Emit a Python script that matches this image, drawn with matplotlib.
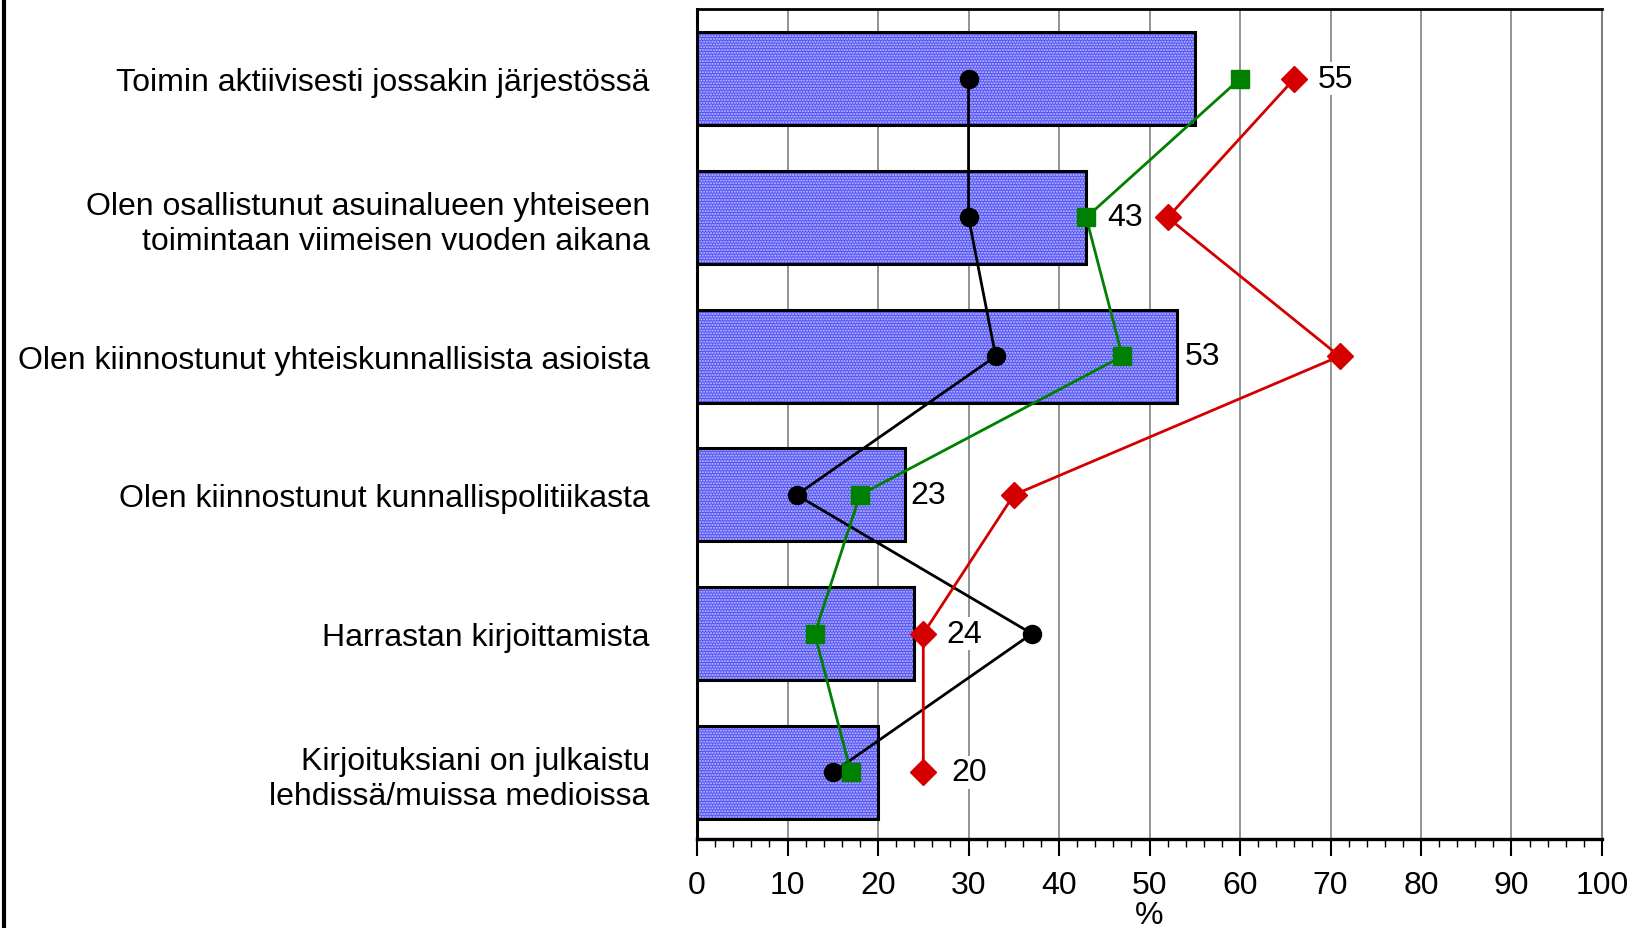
import numpy as np
import matplotlib.pyplot as plt
from matplotlib.lines import Line2D

plt.rcParams['font.family'] = ['Liberation Sans', 'DejaVu Sans']

categories = [
    'Toimin aktiivisesti jossakin järjestössä',
    'Olen osallistunut asuinalueen yhteiseen\ntoimintaan viimeisen vuoden aikana',
    'Olen kiinnostunut yhteiskunnallisista asioista',
    'Olen kiinnostunut kunnallispolitiikasta',
    'Harrastan kirjoittamista',
    'Kirjoituksiani on julkaistu\nlehdissä/muissa medioissa',
]
bar_values = [55, 43, 53, 23, 24, 20]
black_values = [30, 30, 33, 11, 37, 15]
green_values = [60, 43, 47, 18, 13, 17]
red_values = [66, 52, 71, 35, 25, 25]

# where each bar value label sits (x in data units)
label_x = [68.6, 45.3, 53.9, 23.6, 27.5, 28.1]

fig = plt.figure(figsize=(16.34, 9.29), dpi=100)
ax = fig.add_axes([0.4266, 0.0958, 0.9804 - 0.4266, 0.9888 - 0.0958])

y = np.arange(len(categories))

ax.barh(y, bar_values, height=0.67, color='#5252f5', edgecolor='#c8c8ff',
        hatch='......', linewidth=0, zorder=2)
ax.barh(y, bar_values, height=0.67, fill=False, edgecolor='black',
        linewidth=2.2, zorder=3)

ax.plot(black_values, y, color='black', marker='o', markersize=13, lw=2, zorder=4)
ax.plot(green_values, y, color='#008000', marker='s', markersize=13, lw=2, zorder=5)
ax.plot(red_values, y, color='#d40000', marker='D', markersize=13, lw=2, zorder=6)

for yi, v, lx in zip(y, bar_values, label_x):
    ax.text(lx, yi, str(v), va='center', ha='left', fontsize=23,
            bbox=dict(facecolor='white', edgecolor='none', pad=1), zorder=3.5)

ax.set_xlim(0, 100)
ax.set_ylim(5.48, -0.5)
ax.set_xticks(np.arange(0, 101, 10))
ax.set_xticks(np.arange(0, 101, 2), minor=True)
ax.set_yticks(y)
ax.set_yticklabels(categories, fontsize=23, multialignment='right')
ax.tick_params(axis='y', length=0, pad=34)
ax.tick_params(axis='x', which='major', length=12, width=1.5, labelsize=23, pad=10)
ax.tick_params(axis='x', which='minor', length=6, width=1)
ax.set_xlabel('%', fontsize=23, labelpad=0)

ax.grid(axis='x', color='#808080', lw=1.2, zorder=0)
ax.set_axisbelow(True)

ax.spines['bottom'].set_linewidth(2.4)
ax.spines['left'].set_linewidth(2.2)
ax.spines['top'].set_linewidth(2)
ax.spines['right'].set_color('#808080')
ax.spines['right'].set_linewidth(1.5)

fig.add_artist(Line2D([0.0025, 0.0025], [0, 1], color='black', lw=3,
                      transform=fig.transFigure))

fig.savefig('out.png', dpi=100)
